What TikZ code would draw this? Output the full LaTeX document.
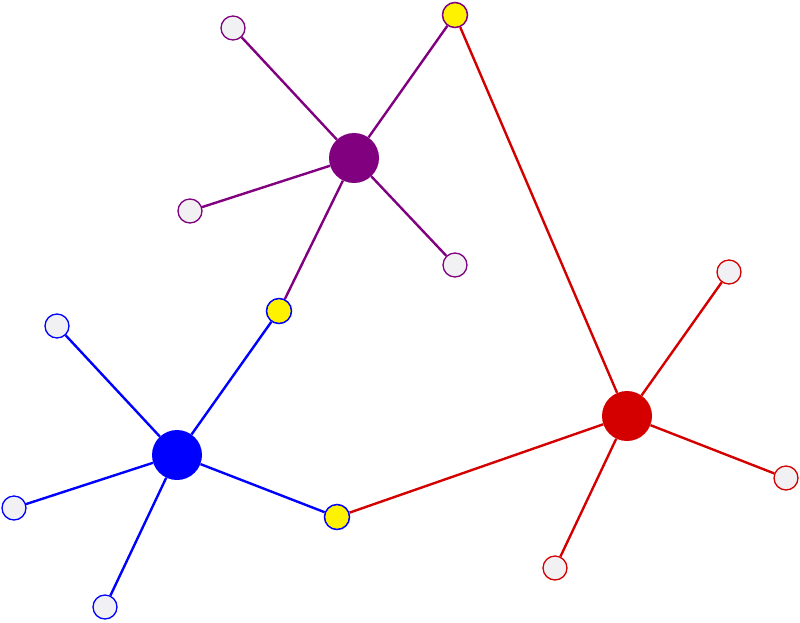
\documentclass[tikz,border=0pt]{standalone}
\begin{document}
\begin{tikzpicture}[x=1pt,y=-1pt,
  hubnode/.style={circle,fill=#1,draw=none,minimum size=50pt,inner sep=0pt},
  leafnode/.style={circle,fill=leafgray,draw=#1,line width=1.3pt,minimum size=24pt,inner sep=0pt},
  portnode/.style={circle,fill=yellow,draw=#1,line width=1.5pt,minimum size=25pt,inner sep=0pt},
  link/.style={draw=#1,line width=2.4pt}]
\definecolor{leafgray}{RGB}{241,241,243}
\definecolor{hubred}{RGB}{212,0,0}
\definecolor{hubpurple}{RGB}{128,0,128}
\definecolor{hubblue}{RGB}{0,0,255}
\useasboundingbox (0,0) rectangle (800,622);
% hubs
\node[hubnode=hubpurple] (P) at (354,158) {};
\node[hubnode=hubblue] (B) at (177,455) {};
\node[hubnode=hubred] (R) at (627,416) {};
% ports
\node[portnode=hubpurple] (Y1) at (455,15) {};
\node[portnode=hubblue] (Y2) at (279,311) {};
\node[portnode=hubblue] (Y3) at (337,517) {};
% leaves
\node[leafnode=hubpurple] (p1) at (233,28) {};
\node[leafnode=hubpurple] (p2) at (190,211) {};
\node[leafnode=hubpurple] (p3) at (455,265) {};
\node[leafnode=hubblue] (b1) at (57,326) {};
\node[leafnode=hubblue] (b2) at (14,508) {};
\node[leafnode=hubblue] (b3) at (105,607) {};
\node[leafnode=hubred] (r1) at (729,272) {};
\node[leafnode=hubred] (r2) at (786,478) {};
\node[leafnode=hubred] (r3) at (555,568) {};
% links
\path[link=hubpurple] (P) -- (p1) (P) -- (p2) (P) -- (p3) (P) -- (Y1) (P) -- (Y2);
\path[link=hubblue] (B) -- (b1) (B) -- (b2) (B) -- (b3) (B) -- (Y2) (B) -- (Y3);
\path[link=hubred] (R) -- (r1) (R) -- (r2) (R) -- (r3) (R) -- (Y1) (R) -- (Y3);
\end{tikzpicture}
\end{document}
